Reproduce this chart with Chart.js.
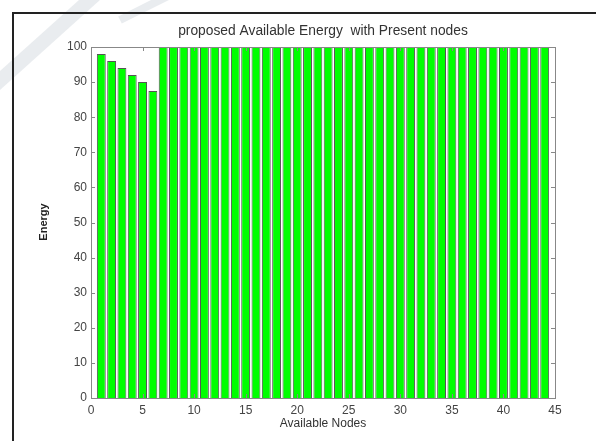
<!DOCTYPE html>
<html><head><meta charset="utf-8">
<script src="https://cdn.jsdelivr.net/npm/chart.js@4.4.1/dist/chart.umd.min.js"></script>
<style>html,body{margin:0;padding:0;background:#fff}#wrap{width:596px;height:441px}</style>
</head><body><div id="wrap"><canvas id="c" width="596" height="441"></canvas></div>
<script>
const chartTitle = "proposed Available Energy  with Present nodes";
const xTitle = "Available Nodes";
const yTitle = "Energy";
const nodes = [1,2,3,4,5,6,7,8,9,10,11,12,13,14,15,16,17,18,19,20,21,22,23,24,25,26,27,28,29,30,31,32,33,34,35,36,37,38,39,40,41,42,43,44];
const energy = [98,96,94,92,90,87.5,100,100,100,100,100,100,100,100,100,100,100,100,100,100,100,100,100,100,100,100,100,100,100,100,100,100,100,100,100,100,100,100,100,100,100,100,100,100];
const xTicks = [0,5,10,15,20,25,30,35,40,45];
const yTicks = [0,10,20,30,40,50,60,70,80,90,100];

const decor = {
  id:'decor',
  beforeDraw(chart){
    const ctx = chart.ctx;
    ctx.save();
    ctx.strokeStyle = 'rgba(200,208,216,0.4)';
    ctx.lineWidth = 14;
    ctx.beginPath(); ctx.moveTo(-5,85); ctx.lineTo(95,-5); ctx.stroke();
    ctx.lineWidth = 8;
    ctx.beginPath(); ctx.moveTo(120,20); ctx.lineTo(170,-5); ctx.stroke();
    ctx.strokeStyle = '#222'; ctx.lineWidth = 2;
    ctx.beginPath(); ctx.moveTo(13,441); ctx.lineTo(13,13); ctx.lineTo(596,13); ctx.stroke();
    ctx.restore();
  },
  afterDraw(chart){
    const ctx = chart.ctx, a = chart.chartArea;
    const xs = chart.scales.x, ys = chart.scales.y;
    ctx.save();
    ctx.strokeStyle = '#888'; ctx.lineWidth = 1;
    ctx.strokeRect(a.left+0.5, a.top+0.5, a.right-a.left, a.bottom-a.top);
    ctx.beginPath();
    xTicks.forEach(v=>{const p=Math.round(xs.getPixelForValue(v))+0.5;
      ctx.moveTo(p,a.bottom); ctx.lineTo(p,a.bottom-4);
      ctx.moveTo(p,a.top); ctx.lineTo(p,a.top+4);});
    yTicks.forEach(v=>{const p=Math.round(ys.getPixelForValue(v))+0.5;
      ctx.moveTo(a.left,p); ctx.lineTo(a.left+4,p);
      ctx.moveTo(a.right,p); ctx.lineTo(a.right-4,p);});
    ctx.stroke();
    ctx.fillStyle = '#333';
    ctx.font = '13.8px "Liberation Sans", Arial, sans-serif';
    ctx.textAlign = 'center'; ctx.textBaseline = 'middle';
    ctx.fillText(chartTitle, (a.left+a.right)/2, 31);
    ctx.translate(44, 222); ctx.rotate(-Math.PI/2);
    ctx.font = 'bold 11px "Liberation Sans", Arial, sans-serif';
    ctx.fillStyle = '#222';
    ctx.fillText(yTitle, 0, 0);
    ctx.restore();
  }
};

new Chart(document.getElementById('c'), {
  type:'bar',
  data:{datasets:[{data:nodes.map((n,i)=>({x:n,y:energy[i]})),
    backgroundColor:'#00ff00', borderColor:'#555', borderWidth:1,
    barPercentage:0.86, categoryPercentage:1}]},
  options:{
    responsive:false, animation:false,
    layout:{padding:{left:0,right:41,top:47,bottom:0}},
    plugins:{legend:{display:false},tooltip:{enabled:false},title:{display:false}},
    scales:{
      x:{type:'linear',min:0,max:45,offset:false,
        grid:{display:false,drawTicks:false},border:{display:false},
        afterBuildTicks(s){s.ticks=xTicks.map(v=>({value:v}));},
        afterFit(s){s.height=43;},
        ticks:{color:'#444',font:{size:12,family:'"Liberation Sans", Arial'},padding:5,maxRotation:0,autoSkip:false},
        title:{display:true,text:xTitle,color:'#333',font:{size:12,family:'"Liberation Sans", Arial'},padding:{top:2,bottom:10}}},
      y:{min:0,max:100,
        grid:{display:false,drawTicks:false},border:{display:false},
        afterBuildTicks(s){s.ticks=yTicks.map(v=>({value:v}));},
        afterFit(s){s.width=91;},
        ticks:{color:'#444',font:{size:12,family:'"Liberation Sans", Arial'},padding:4,autoSkip:false}}
    }
  },
  plugins:[decor]
});
</script></body></html>
